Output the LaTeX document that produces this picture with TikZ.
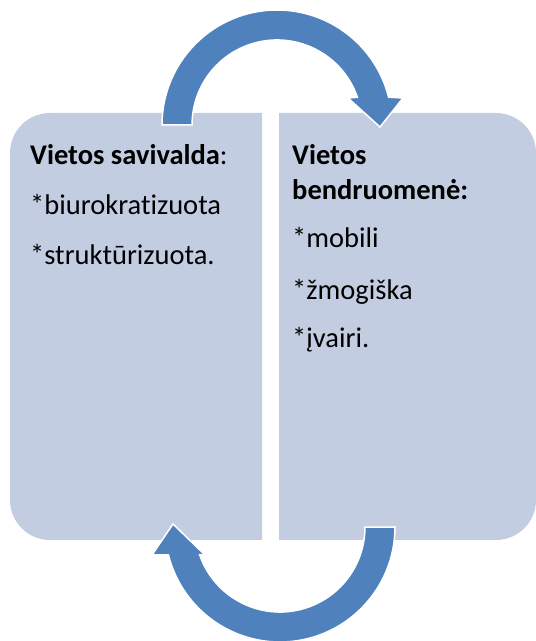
\documentclass[tikz,border=0pt]{standalone}
\usepackage{fontspec}
\setmainfont{Carlito}[Ligatures=NoCommon]
\usepackage{tikz}
\definecolor{panel}{RGB}{195,205,225}
\definecolor{cyclearrow}{RGB}{79,129,189}
\tikzset{panel box/.style={fill=panel, draw=none}}
\tikzset{cycle arrow/.style={fill=cyclearrow, draw=white, line width=1.5pt, line join=miter}}
\tikzset{line text/.style={anchor=base west, inner sep=0, font=\fontsize{28.5}{35}\selectfont}}

\begin{document}
\begin{tikzpicture}[x=1pt, y=1pt]
  \useasboundingbox (0,0) rectangle (536,641);

  % the two panels
  \path[panel box] (262,101) -- (50,101) arc[start angle=270, end angle=180, radius=40]
    -- (10,488) arc[start angle=180, end angle=90, radius=40] -- (262,528) -- cycle;
  \path[panel box] (279,101) -- (496,101) arc[start angle=-90, end angle=0, radius=40]
    -- (536,488) arc[start angle=0, end angle=90, radius=40] -- (279,528) -- cycle;

  % upper arrow, left to right
  \draw[cycle arrow] (162,516) arc[start angle=180, end angle=14, radius=115]
    -- (403,543) -- (380,514) -- (348,543) -- (357.4,543.7)
    arc[start angle=19, end angle=180, radius=85] -- cycle;
  % lower arrow, right to left
  \draw[cycle arrow] (395,114) arc[start angle=0, end angle=-166, radius=115]
    -- (152,86) -- (173,117) -- (205,86) -- (199.6,86.3)
    arc[start angle=-161, end angle=0, radius=85] -- cycle;

  \node[line text] at (30,476) (sav) {\textbf{Vietos savivalda}:};
  \node[line text] at (30,426) (biur) {*biurokratizuota};
  \node[line text] at (30,376) (strukt) {*struktūrizuota.};

  \node[line text] at (292,476) (bend) {\textbf{Vietos}};
  \node[line text] at (292,441) (bend2) {\textbf{bendruomenė:}};
  \node[line text] at (292,393) (mob) {*mobili};
  \node[line text] at (292,341) (zmog) {*žmogiška};
  \node[line text] at (292,293) (ivair) {*įvairi.};
\end{tikzpicture}
\end{document}
